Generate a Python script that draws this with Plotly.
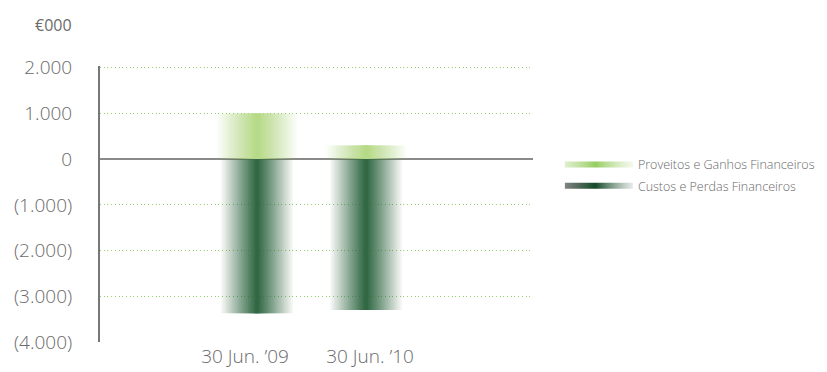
import plotly.graph_objects as go

categories = ["30 Jun. \u201909", "30 Jun. \u201910"]
proveitos = [1000, 300]
custos = [-3370, -3300]
series_names = ["Proveitos e Ganhos Financeiros", "Custos e Perdas Financeiros"]
y_tickvals = [2000, 1000, 0, -1000, -2000, -3000, -4000]
y_ticktext = ["2.000", "1.000", "0", "(1.000)", "(2.000)", "(3.000)", "(4.000)"]
grid_vals = [2000, 1000, -1000, -2000, -3000]
unit_label = "\u20ac000"

GREEN = (182, 218, 135)
DARK = (50, 104, 68)
N_LAYERS = 20
TXT = "#6a6a6a"
FONT = "Open Sans"

fig = go.Figure()

def add_gradient_bars(values, rgb, full_width):
    for k in range(N_LAYERS):
        a = 1.0 / (N_LAYERS - k)
        w = full_width * (N_LAYERS - k) / N_LAYERS
        fig.add_trace(go.Bar(
            x=categories, y=values, width=w,
            marker=dict(color="rgba(%d,%d,%d,%.4f)" % (rgb + (a,)), line=dict(width=0)),
            showlegend=False, hoverinfo="skip", xaxis="x", yaxis="y",
        ))

add_gradient_bars(proveitos, GREEN, 0.74)
add_gradient_bars(custos, DARK, 0.66)

# label axis (tick labels for categories)
fig.add_trace(go.Scatter(x=categories, y=[0, 0], mode="markers",
                         marker=dict(opacity=0), showlegend=False,
                         hoverinfo="skip", xaxis="x2", yaxis="y"))

# legend entries with gradient swatches
legend_grads = [
    [[0, "rgba(200,228,170,0.6)"], [0.45, "rgb(150,205,95)"], [1, "rgba(235,245,225,0.6)"]],
    [[0, "rgb(130,130,130)"], [0.45, "rgb(20,75,40)"], [1, "rgba(220,225,222,0.7)"]],
]
for i, (name, grad) in enumerate(zip(series_names, legend_grads)):
    fig.add_trace(go.Scatter(
        x=[None], y=[None], mode="none", fill="toself", name=name,
        legendgroup="g%d" % i,
        fillgradient=dict(type="horizontal", colorscale=grad),
        hoverinfo="skip",
    ))

fig.update_layout(
    width=827, height=372,
    margin=dict(l=100, r=294, t=66, b=30, autoexpand=False),
    paper_bgcolor="white", plot_bgcolor="white",
    barmode="overlay",
    font=dict(family=FONT, color=TXT),
    showlegend=True,
    legend=dict(xref="container", yref="container", x=0.677, y=0.597,
                xanchor="left", yanchor="top",
                font=dict(family=FONT, size=12.5, color=TXT, weight=300),
                traceorder="grouped", tracegroupgap=2, itemwidth=68,
                itemclick=False, bgcolor="rgba(0,0,0,0)"),
    xaxis=dict(type="category", range=[-1.44, 2.53], showticklabels=False,
               showgrid=False, zeroline=False, showline=False, fixedrange=True),
    xaxis2=dict(type="category", overlaying="x", side="bottom", range=[-1.16, 2.304],
                showgrid=False, zeroline=False, showline=False, ticks="",
                ticklabelstandoff=1,
                tickfont=dict(size=19, color=TXT, weight=300), fixedrange=True),
    yaxis=dict(range=[-4000, 2040], tickvals=y_tickvals, ticktext=y_ticktext,
               tickfont=dict(size=19, color=TXT, weight=300),
               showgrid=False, showline=True, linecolor="#777777", linewidth=2,
               zeroline=True, zerolinecolor="#8a8a8a", zerolinewidth=2,
               ticks="", ticklabelstandoff=22, fixedrange=True,
               minor=dict(tickvals=grid_vals, showgrid=True, gridcolor="#8fd36a",
                          griddash="1px,2.7px", gridwidth=1, ticks="")),
    annotations=[dict(text=unit_label, xref="paper", yref="paper", x=-0.06, y=1.149,
                      xanchor="right", yanchor="middle", showarrow=False,
                      font=dict(size=16, color=TXT))],
)

fig.write_html("out.html")
